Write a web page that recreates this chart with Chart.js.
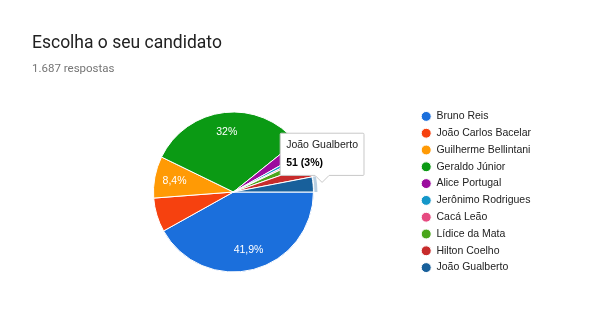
<!DOCTYPE html>
<html>
<head>
<meta charset="utf-8">
<script src="https://cdn.jsdelivr.net/npm/chart.js@4"></script>
<style>
html, body { margin: 0; padding: 0; background: #fff; }
#wrap { position: relative; width: 600px; height: 320px; overflow: hidden; }
canvas { position: absolute; left: 0; top: 0; }
.titulo { position: absolute; left: 32px; top: 32px; font: 17.5px Roboto; line-height: 20px; color: #212121; }
.sub { position: absolute; left: 32px; top: 61px; font: 11.5px Roboto; line-height: 14px; color: #757575; }
</style>
</head>
<body>
<div id="wrap">
  <canvas id="grafico" width="600" height="320"></canvas>
  <div class="titulo">Escolha o seu candidato</div>
  <div class="sub">1.687 respostas</div>
</div>
<script>
// candidatos e votos
const candidatos = ['Bruno Reis', 'João Carlos Bacelar', 'Guilherme Bellintani', 'Geraldo Júnior',
  'Alice Portugal', 'Jerônimo Rodrigues', 'Cacá Leão', 'Lídice da Mata', 'Hilton Coelho', 'João Gualberto'];
const votos = [707, 116, 142, 540, 44, 13, 7, 27, 40, 51];
const cores = ['#1b6fdc', '#f6410f', '#ff9a05', '#0b9a14', '#9c0c9e', '#1497c9', '#e64a80', '#4aa61b', '#c72b2b', '#18609b'];

const total = votos.reduce((a, b) => a + b, 0);
function pct(v) {
  const p = Math.round(v / total * 1000) / 10;
  return String(p).replace('.', ',') + '%';
}

// rótulos de porcentagem dentro das fatias grandes + anel da fatia ativa
const rotulos = {
  id: 'rotulos',
  afterDatasetsDraw(chart) {
    const ctx = chart.ctx;
    const meta = chart.getDatasetMeta(0);
    ctx.save();
    chart.getActiveElements().forEach(ativo => {
      const p = ativo.element.getProps(['x', 'y', 'startAngle', 'endAngle', 'outerRadius'], true);
      ctx.beginPath();
      ctx.arc(p.x, p.y, p.outerRadius + 4, p.startAngle, p.endAngle);
      ctx.arc(p.x, p.y, p.outerRadius + 1, p.endAngle, p.startAngle, true);
      ctx.closePath();
      ctx.fillStyle = 'rgba(24, 96, 155, 0.3)';
      ctx.fill();
    });
    ctx.fillStyle = '#fff';
    ctx.font = '10.5px Arial, "Liberation Sans"';
    ctx.textAlign = 'center';
    ctx.textBaseline = 'middle';
    meta.data.forEach((arc, i) => {
      if (votos[i] / total < 0.075) return;
      const p = arc.getProps(['x', 'y', 'startAngle', 'endAngle', 'outerRadius'], true);
      const a = (p.startAngle + p.endAngle) / 2;
      const r = p.outerRadius * 0.75;
      ctx.fillText(pct(votos[i]), p.x + Math.cos(a) * r, p.y + Math.sin(a) * r);
    });
    ctx.restore();
  }
};

Chart.Tooltip.positioners.borda = function(items) {
  if (!items.length) return false;
  const p = items[0].element.getProps(['x', 'y', 'startAngle', 'endAngle', 'outerRadius'], true);
  const a = (p.startAngle + p.endAngle) / 2;
  return { x: p.x + Math.cos(a) * p.outerRadius + 9, y: p.y + Math.sin(a) * p.outerRadius - 1 };
};

const grafico = new Chart(document.getElementById('grafico'), {
  type: 'pie',
  data: {
    labels: candidatos,
    datasets: [{
      data: votos,
      backgroundColor: cores,
      hoverBackgroundColor: cores,
      borderColor: '#fff',
      hoverBorderColor: '#fff',
      borderWidth: 1,
      hoverBorderWidth: 1,
      hoverOffset: 0
    }]
  },
  options: {
    responsive: false,
    animation: false,
    rotation: 90,
    radius: 80,
    events: [],
    layout: { padding: { top: 96, bottom: 32, left: 52, right: 59 } },
    plugins: {
      legend: {
        position: 'right',
        align: 'center',
        labels: {
          usePointStyle: true,
          pointStyle: 'circle',
          boxHeight: 7,
          pointStyleWidth: 10,
          padding: 6.3,
          color: '#222',
          font: { family: 'Arial, "Liberation Sans"', size: 10.5 }
        }
      },
      tooltip: {
        position: 'borda',
        xAlign: 'center',
        yAlign: 'bottom',
        backgroundColor: '#fff',
        borderColor: '#c8c8c8',
        borderWidth: 1,
        cornerRadius: 1,
        caretSize: 7,
        caretPadding: 1,
        padding: { top: 6, bottom: 6, left: 6, right: 6 },
        displayColors: false,
        titleColor: '#222',
        titleFont: { family: 'Arial, "Liberation Sans"', size: 10.5, weight: 'normal' },
        titleMarginBottom: 5,
        bodyColor: '#000',
        bodyFont: { family: 'Arial, "Liberation Sans"', size: 10.5, weight: 'bold' },
        callbacks: {
          title: items => items[0].label,
          label: item => item.raw + ' (' + pct(item.raw) + ')'
        }
      }
    }
  },
  plugins: [rotulos]
});

const alvo = [{ datasetIndex: 0, index: 9 }];
grafico.setActiveElements(alvo);
grafico.tooltip.setActiveElements(alvo, { x: 0, y: 0 });
grafico.update();
</script>
</body>
</html>
